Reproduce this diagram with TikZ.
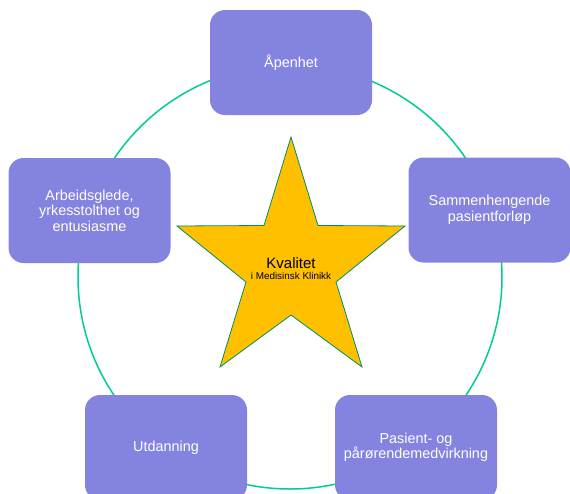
\documentclass[tikz,border=0pt]{standalone}
\usepackage{fontspec}
\setmainfont{Liberation Sans}
\definecolor{boxfill}{RGB}{132,132,224}
\definecolor{ringcol}{RGB}{0,204,153}
\definecolor{starfill}{RGB}{255,192,0}
\definecolor{starline}{RGB}{0,140,100}
\begin{document}
\begin{tikzpicture}[x=1pt,y=-1pt,
  topic/.style={rectangle, rounded corners=15pt, fill=boxfill, minimum width=162pt, minimum height=105pt,
     text=white, align=center, font=\fontsize{14.4}{15.5}\selectfont, inner sep=0pt}]
\useasboundingbox (0,0) rectangle (570,493);
\begin{scope}
\clip (0,0) rectangle (570,493);
\node[draw=ringcol, line width=1.5pt, circle, minimum size=424pt, inner sep=0pt] (ring) at (290,277) {};
\node[topic] (apen) at (291,62.5) {Åpenhet};
\node[topic] (arb) at (89.5,210.5) {Arbeidsglede,\\yrkesstolthet og\\entusiasme};
\node[topic] (sam) at (489.5,210) {Sammenhengende\\pasientforløp};
\node[topic] (utd) at (166,447.5) {Utdanning};
\node[topic] (pas) at (416,447.5) {Pasient- og\\pårørendemedvirkning};
\draw[fill=starfill, draw=starline, line width=0.8pt]
  (291,137) -- (318,225.5) -- (405,226) -- (336,282) -- (362,367) -- (291,315)
  -- (220,367) -- (246,282) -- (177,226) -- (264,225.5) -- cycle;
\node[align=center, inner sep=0pt] (kval) at (291,269)
  {{\fontsize{15}{17}\selectfont Kvalitet}\\[-1pt]{\fontsize{9.9}{11}\selectfont i Medisinsk Klinikk}};
\end{scope}
\end{tikzpicture}
\end{document}
